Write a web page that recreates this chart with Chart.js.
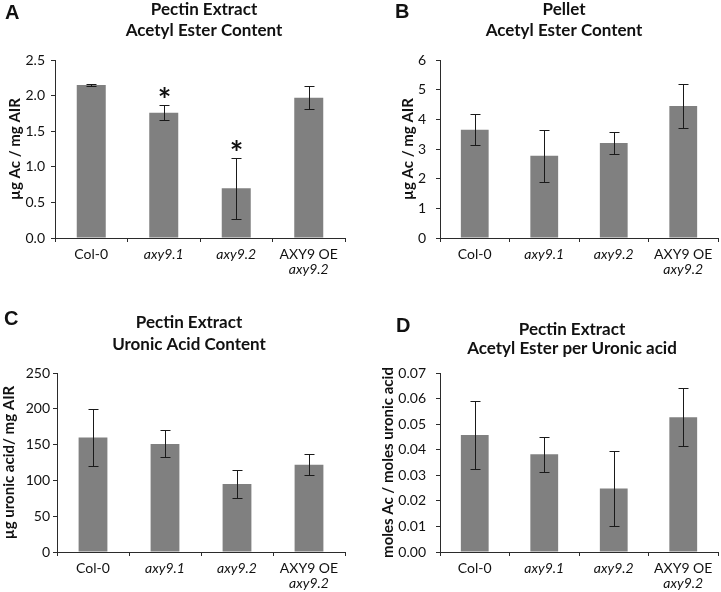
<!DOCTYPE html>
<html>
<head>
<meta charset="utf-8">
<script src="https://cdn.jsdelivr.net/npm/chart.js@4.4.0/dist/chart.umd.min.js"></script>
<style>
  body { margin: 0; background: #fff; }
  #fig { position: relative; width: 721px; height: 592px; overflow: hidden; }
  .panel { position: absolute; }
</style>
</head>
<body>
<div id="fig">
  <canvas class="panel" id="chartA" width="360" height="300" style="left:0;top:0"></canvas>
  <canvas class="panel" id="chartB" width="361" height="300" style="left:360px;top:0"></canvas>
  <canvas class="panel" id="chartC" width="360" height="292" style="left:0;top:300px"></canvas>
  <canvas class="panel" id="chartD" width="361" height="292" style="left:360px;top:300px"></canvas>
</div>
<script>
// genotypes on the x axis (second line goes under the first)
const categories = [['Col-0'], ['axy9.1'], ['axy9.2'], ['AXY9 OE', 'axy9.2']];

// A - pectin extract, acetyl ester (ug Ac / mg AIR)
const pectinAcetyl = [2.15, 1.76, 0.70, 1.97];
const pectinAcetylErr = [0.01, 0.105, 0.43, 0.165];
const pectinAcetylSig = [false, true, true, false];

// B - pellet, acetyl ester (ug Ac / mg AIR)
const pelletAcetyl = [3.65, 2.77, 3.20, 4.45];
const pelletAcetylErr = [0.53, 0.88, 0.36, 0.73];

// C - pectin extract, uronic acid (ug / mg AIR)
const uronicAcid = [160, 151, 95, 122];
const uronicAcidErr = [40, 19, 19.5, 15];

// D - acetyl ester per uronic acid (moles / moles)
const acetylPerUronic = [0.0458, 0.0382, 0.0248, 0.0527];
const acetylPerUronicErr = [0.0132, 0.0068, 0.0146, 0.0113];

const FONT = 'Lato';
const axisColor = '#2b2b2b';
const textColor = '#111';
const barColor = '#808080';

// error bars, asterisks, titles, panel letters and x labels
const figurePlugin = {
  id: 'figure',
  afterDatasetsDraw(chart, args, opts) {
    const ctx = chart.ctx;
    const yScale = chart.scales.y;
    const meta = chart.getDatasetMeta(0);
    const values = chart.data.datasets[0].data;
    ctx.save();
    ctx.strokeStyle = '#1a1a1a';
    ctx.lineWidth = 1;
    meta.data.forEach(function (bar, i) {
      const v = values[i], e = opts.errors[i];
      const x = Math.round(bar.x) + 0.5;
      const yTop = Math.round(yScale.getPixelForValue(v + e)) + 0.5;
      const yBot = Math.round(yScale.getPixelForValue(v - e)) + 0.5;
      ctx.beginPath();
      ctx.moveTo(x, yTop); ctx.lineTo(x, yBot);
      ctx.moveTo(x - 5, yTop); ctx.lineTo(x + 5, yTop);
      ctx.moveTo(x - 5, yBot); ctx.lineTo(x + 5, yBot);
      ctx.stroke();
      if (opts.stars && opts.stars[i]) {
        ctx.fillStyle = textColor;
        ctx.font = 'bold 32px ' + FONT;
        ctx.textAlign = 'center';
        ctx.textBaseline = 'alphabetic';
        const m = ctx.measureText('*');
        const cy = yTop - 14;
        const base = cy + (m.actualBoundingBoxAscent - m.actualBoundingBoxDescent) / 2;
        ctx.fillText('*', x, base);
      }
    });
    ctx.restore();
  },
  afterDraw(chart, args, opts) {
    const ctx = chart.ctx;
    const xScale = chart.scales.x;
    ctx.save();
    ctx.fillStyle = textColor;
    ctx.textBaseline = 'alphabetic';
    // panel letter
    ctx.textAlign = 'left';
    ctx.font = 'bold 20px "Liberation Sans"';
    ctx.fillText(opts.letter, opts.letterX, opts.letterY);
    // two line title
    ctx.textAlign = 'center';
    ctx.font = 'bold 17px ' + FONT;
    opts.title.forEach(function (line, k) {
      ctx.fillText(line, opts.titleX, opts.titleY[k]);
    });
    // category labels
    categories.forEach(function (lines, i) {
      const x = xScale.getPixelForValue(i);
      lines.forEach(function (line, k) {
        const italic = line.indexOf('axy') === 0;
        ctx.font = (italic ? 'italic ' : '') + '14px ' + FONT;
        ctx.fillText(line, x, chart.chartArea.bottom + 21 + k * 15);
      });
    });
    ctx.restore();
  }
};

function buildPanel(id, cfg) {
  const canvas = document.getElementById(id);
  return new Chart(canvas.getContext('2d'), {
    type: 'bar',
    data: {
      labels: categories.map(c => c.join(' ')),
      datasets: [{
        data: cfg.values,
        backgroundColor: barColor,
        borderWidth: 0,
        categoryPercentage: 1,
        barPercentage: 0.4
      }]
    },
    options: {
      responsive: false,
      animation: false,
      layout: { padding: { top: cfg.top, right: cfg.right, left: 0, bottom: 0 } },
      scales: {
        x: {
          afterFit(scale) { scale.height = canvas.height - cfg.bottom; },
          border: { color: axisColor, width: 1 },
          grid: { drawOnChartArea: false, drawTicks: true, tickLength: 4, color: axisColor, offset: true },
          ticks: { display: false }
        },
        y: {
          min: 0,
          max: cfg.max,
          afterFit(scale) { scale.width = cfg.left; },
          border: { color: axisColor, width: 1 },
          grid: { drawOnChartArea: false, drawTicks: true, tickLength: 4, color: axisColor },
          ticks: {
            stepSize: cfg.step,
            padding: cfg.tickPad,
            color: textColor,
            font: { family: FONT, size: 14 },
            callback: v => v.toFixed(cfg.digits)
          },
          title: {
            display: true,
            text: cfg.yTitle,
            color: textColor,
            font: { family: FONT, size: 15, weight: 'bold' },
            padding: { top: cfg.yTitlePad, bottom: 0 }
          }
        }
      },
      plugins: {
        legend: { display: false },
        tooltip: { enabled: false },
        figure: {
          errors: cfg.errors,
          stars: cfg.stars,
          letter: cfg.letter,
          letterX: cfg.letterX,
          letterY: cfg.letterY,
          title: cfg.title,
          titleX: cfg.titleX,
          titleY: cfg.titleY
        }
      }
    },
    plugins: [figurePlugin]
  });
}

buildPanel('chartA', {
  values: pectinAcetyl, errors: pectinAcetylErr, stars: pectinAcetylSig,
  max: 2.5, step: 0.5, digits: 1,
  left: 55, right: 15, top: 60, bottom: 238, tickPad: 6,
  yTitle: 'µg Ac / mg AIR', yTitlePad: 6,
  letter: 'A', letterX: 5, letterY: 19,
  title: ['Pectin Extract', 'Acetyl Ester Content'], titleX: 204, titleY: [15, 36]
});

buildPanel('chartB', {
  values: pelletAcetyl, errors: pelletAcetylErr,
  max: 6, step: 1, digits: 0,
  left: 80, right: 3, top: 60, bottom: 238, tickPad: 10,
  yTitle: 'µg Ac / mg AIR', yTitlePad: 39,
  letter: 'B', letterX: 35, letterY: 18,
  title: ['Pellet', 'Acetyl Ester Content'], titleX: 204, titleY: [15, 36]
});

buildPanel('chartC', {
  values: uronicAcid, errors: uronicAcidErr,
  max: 250, step: 50, digits: 0,
  left: 57, right: 15, top: 73, bottom: 252, tickPad: 3,
  yTitle: 'µg uronic acid/ mg AIR', yTitlePad: 0,
  letter: 'C', letterX: 4, letterY: 25,
  title: ['Pectin Extract', 'Uronic Acid Content'], titleX: 189, titleY: [28, 50]
});

buildPanel('chartD', {
  values: acetylPerUronic, errors: acetylPerUronicErr,
  max: 0.07, step: 0.01, digits: 2,
  left: 80, right: 3, top: 73, bottom: 252, tickPad: 10,
  yTitle: 'moles Ac / moles uronic acid', yTitlePad: 19,
  letter: 'D', letterX: 36, letterY: 32,
  title: ['Pectin Extract', 'Acetyl Ester per Uronic acid'], titleX: 212, titleY: [35, 54]
});
</script>
</body>
</html>
